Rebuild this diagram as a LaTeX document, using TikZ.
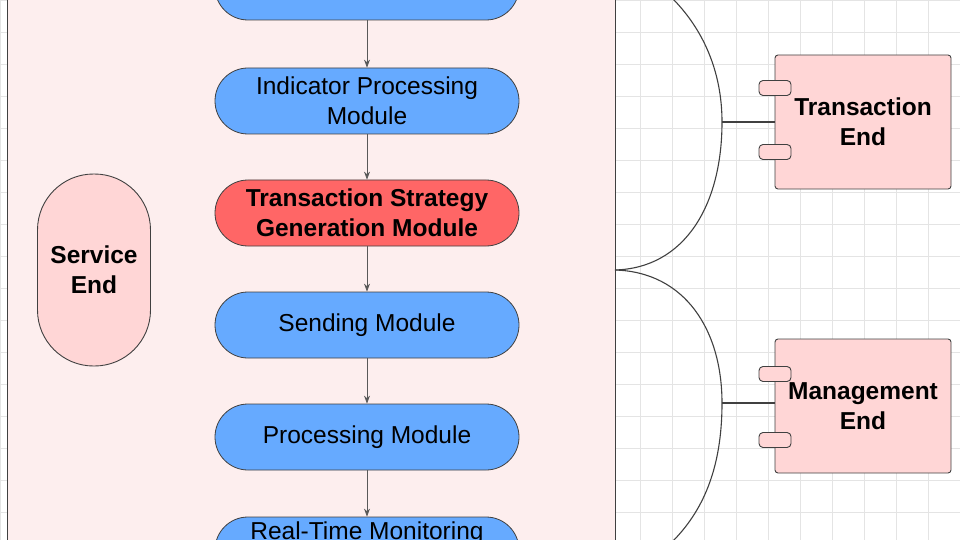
\documentclass[tikz,border=0pt]{standalone}
\usepackage{fontspec}
\setmainfont{Liberation Sans}
\usetikzlibrary{arrows.meta}
\definecolor{modblue}{HTML}{66AAFF}
\definecolor{modred}{HTML}{FF6666}
\definecolor{endpink}{HTML}{FFD6D6}
\definecolor{panel}{HTML}{FDEEEE}
\definecolor{gridgray}{HTML}{E4E4E4}
\begin{document}
\begin{tikzpicture}[x=1pt,y=-1pt,
        module/.style={rectangle, draw=black!75, fill=modblue, line width=0.8pt, minimum width=304pt, minimum height=66pt, rounded corners=33pt, align=center, font=\fontsize{24.5}{30}\selectfont},
        endbox/.style={rectangle, draw=black!75, fill=endpink, line width=0.9pt, minimum width=176pt, minimum height=134pt, rounded corners=3pt, align=center, font=\fontsize{24.5}{30}\selectfont\bfseries},
        tab/.style={rectangle, draw=black!75, fill=endpink, line width=0.9pt, minimum width=32pt, minimum height=15pt, rounded corners=4pt},
        link/.style={draw=black!75, line width=1.1pt},
        arrow/.style={-{Stealth[length=8pt,width=6pt]}, draw=black!65, line width=0.8pt}
    ]
        \useasboundingbox (0,0) rectangle (960,540);
        \clip (0,0) rectangle (960,540);

        % Grid
        \draw[gridgray, line width=0.6pt, step=32pt] (-9,-10) grid (970,550);

        % Service panel
        \draw[black!75, fill=panel, line width=1pt] (7,-20) rectangle (615,560);
        \node[rectangle, draw=black!75, fill=endpink, line width=0.9pt, minimum width=113pt, minimum height=192pt, rounded corners=56pt, align=center, font=\fontsize{24.5}{30}\selectfont\bfseries] (service) at (94,270) {Service\\End};

        % Modules
        \node[module] (top) at (367,-13) {};
        \node[module] (indicator) at (367,101) {Indicator Processing\\Module};
        \node[module, fill=modred, font=\fontsize{24.5}{30}\selectfont\bfseries] (strategy) at (367,213) {Transaction Strategy\\Generation Module};
        \node[module] (sending) at (367,325) {Sending Module};
        \node[module] (processing) at (367,437) {Processing Module};
        \node[module] (monitor) at (367,550) {Real-Time Monitoring\\\strut};

        % Arrows
        \draw[arrow] (top) -- (indicator);
        \draw[arrow] (indicator) -- (strategy);
        \draw[arrow] (strategy) -- (sending);
        \draw[arrow] (sending) -- (processing);
        \draw[arrow] (processing) -- (monitor);

        % Ends
        \node[endbox] (trans) at (863,122) {Transaction\\End};
        \node[tab] at (775,88) {};
        \node[tab] at (775,152) {};
        \node[endbox] (manage) at (863,406) {Management\\End};
        \node[tab] at (775,374) {};
        \node[tab] at (775,440) {};

        % Interfaces
        \coordinate (split) at (615,270);
        \coordinate (tjoin) at (722,122);
        \coordinate (mjoin) at (722,403);
        \draw[link] (split) .. controls (685,268) and (722,205) .. (tjoin) .. controls (722,70) and (702,28) .. (672,-2);
        \draw[link] (split) .. controls (685,272) and (722,330) .. (mjoin) .. controls (722,470) and (702,512) .. (672,542);
        \draw[link] (tjoin) -- (trans.west);
        \draw[link] (mjoin) -- (manage.west |- mjoin);
    \end{tikzpicture}
\end{document}
